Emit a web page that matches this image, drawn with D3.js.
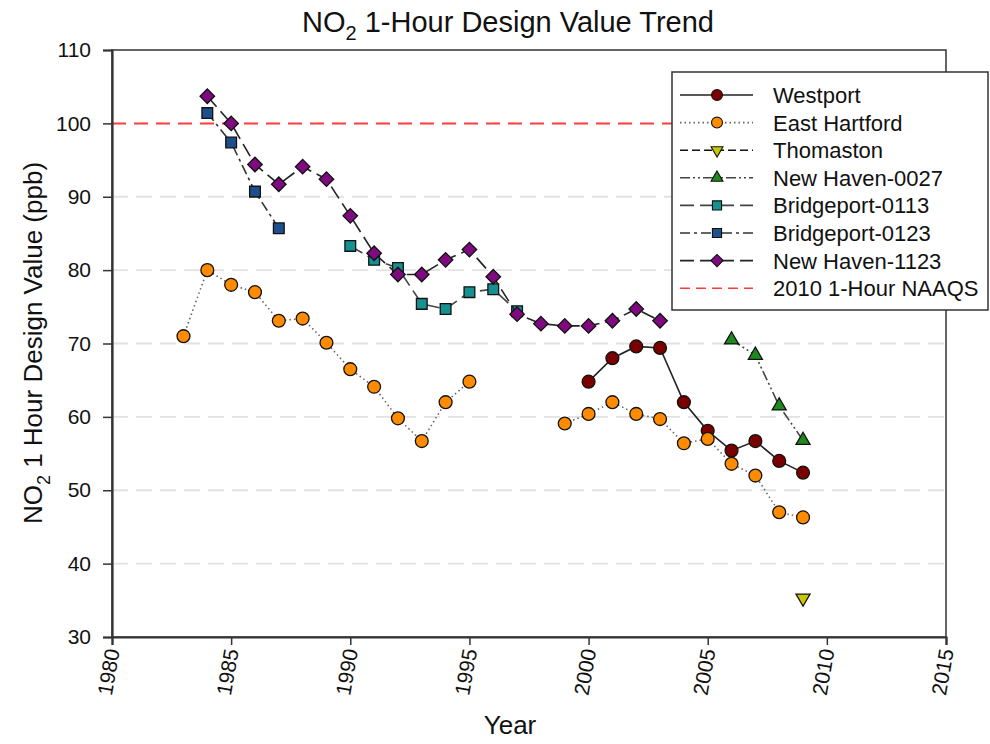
<!DOCTYPE html>
<html>
<head>
<meta charset="utf-8">
<script src="https://cdn.jsdelivr.net/npm/d3@7"></script>
<style>
  body { margin: 0; background: #fff; }
  text { font-family: Arial, 'Liberation Sans', sans-serif; fill: #111; }
</style>
</head>
<body>
<div id="chart"></div>
<script>
// data
const xTicks = [1980, 1985, 1990, 1995, 2000, 2005, 2010, 2015];
const yTicks = [30, 40, 50, 60, 70, 80, 90, 100, 110];
const gridValues = [40, 50, 60, 70, 80, 90];
const naaqsValue = 100;

const westportYears = [2000, 2001, 2002, 2003, 2004, 2005, 2006, 2007, 2008, 2009];
const westportValues = [64.8, 68.0, 69.6, 69.4, 62.0, 58.1, 55.4, 56.7, 54.0, 52.4];

const eastHartfordYears = [1983, 1984, 1985, 1986, 1987, 1988, 1989, 1990, 1991, 1992, 1993, 1994, 1995,
  1996, 1997, 1998, 1999, 2000, 2001, 2002, 2003, 2004, 2005, 2006, 2007, 2008, 2009];
const eastHartfordValues = [71.0, 80.0, 78.0, 77.0, 73.1, 73.4, 70.1, 66.5, 64.1, 59.8, 56.7, 62.0, 64.8,
  null, null, null, 59.1, 60.4, 62.0, 60.4, 59.7, 56.4, 57.0, 53.6, 52.0, 47.0, 46.3];

const thomastonYears = [2009];
const thomastonValues = [35.3];

const newHaven0027Years = [2006, 2007, 2008, 2009];
const newHaven0027Values = [70.5, 68.4, 61.5, 56.8];

const bridgeport0113Years = [1990, 1991, 1992, 1993, 1994, 1995, 1996, 1997];
const bridgeport0113Values = [83.3, 81.4, 80.3, 75.4, 74.7, 77.0, 77.4, 74.4];

const bridgeport0123Years = [1984, 1985, 1986, 1987];
const bridgeport0123Values = [101.4, 97.4, 90.7, 85.7];

const newHaven1123Years = [1984, 1985, 1986, 1987, 1988, 1989, 1990, 1991, 1992, 1993, 1994, 1995,
  1996, 1997, 1998, 1999, 2000, 2001, 2002, 2003];
const newHaven1123Values = [103.7, 100.0, 94.4, 91.7, 94.1, 92.4, 87.4, 82.3, 79.4, 79.4, 81.4, 82.8,
  79.1, 74.0, 72.7, 72.4, 72.4, 73.1, 74.7, 73.1];

const seriesNames = ['Westport', 'East Hartford', 'Thomaston', 'New Haven-0027',
  'Bridgeport-0113', 'Bridgeport-0123', 'New Haven-1123'];
const naaqsName = '2010 1-Hour NAAQS';

// styling for each series, same order as the names
const seriesYears = [westportYears, eastHartfordYears, thomastonYears, newHaven0027Years,
  bridgeport0113Years, bridgeport0123Years, newHaven1123Years];
const seriesValues = [westportValues, eastHartfordValues, thomastonValues, newHaven0027Values,
  bridgeport0113Values, bridgeport0123Values, newHaven1123Values];
const fills = ['#7a0000', '#ff8c00', '#c8c800', '#1e8a1e', '#169090', '#1c4f8c', '#7f0a80'];
const lineColors = ['#222', '#666', '#111', '#444', '#444', '#333', '#222'];
const dashes = [null, '1.5,3', '8,4', '10,3,2,3,2,3', '14,6', '10,4,3,4', '14,6'];
const shapes = ['circle', 'circle', 'down', 'up', 'square', 'square', 'diamond'];

const width = 990;
const height = 744;

const svg = d3.select('#chart')
  .append('svg')
  .attr('width', width)
  .attr('height', height);

const x = d3.scaleLinear().domain([1980, 2015]).range([112, 946]);
const y = d3.scaleLinear().domain([30, 110]).range([637, 50]);

// dashed gray grid
svg.append('g')
  .selectAll('line')
  .data(gridValues)
  .enter()
  .append('line')
  .attr('x1', x(1980))
  .attr('x2', x(2015))
  .attr('y1', d => y(d))
  .attr('y2', d => y(d))
  .attr('stroke', '#e2e2e2')
  .attr('stroke-width', 1.8)
  .attr('stroke-dasharray', '16,8');

// standard line
svg.append('line')
  .attr('x1', x(1980))
  .attr('x2', x(2015))
  .attr('y1', y(naaqsValue))
  .attr('y2', y(naaqsValue))
  .attr('stroke', '#ff3b3b')
  .attr('stroke-width', 2)
  .attr('stroke-dasharray', '14,8');

function symbolPath(shape) {
  if (shape === 'circle') return d3.symbol(d3.symbolCircle, 130)();
  if (shape === 'square') return d3.symbol(d3.symbolSquare, 115)();
  if (shape === 'diamond') return d3.symbol(d3.symbolSquare, 105)();
  return d3.symbol(d3.symbolTriangle, 85)();
}
function symbolTransform(shape, cx, cy) {
  if (shape === 'diamond') return `translate(${cx},${cy}) rotate(45)`;
  if (shape === 'down') return `translate(${cx},${cy}) rotate(180)`;
  return `translate(${cx},${cy})`;
}

const line = d3.line()
  .defined(d => d.v != null)
  .x(d => x(d.year))
  .y(d => y(d.v));

seriesNames.forEach((name, i) => {
  const points = seriesYears[i].map((year, j) => ({ year: year, v: seriesValues[i][j] }));
  const group = svg.append('g').attr('class', 'series');

  group.append('path')
    .attr('d', line(points))
    .attr('fill', 'none')
    .attr('stroke', lineColors[i])
    .attr('stroke-width', 1.6)
    .attr('stroke-dasharray', dashes[i]);

  group.selectAll('path.mark')
    .data(points.filter(d => d.v != null))
    .enter()
    .append('path')
    .attr('class', 'mark')
    .attr('d', symbolPath(shapes[i]))
    .attr('transform', d => symbolTransform(shapes[i], x(d.year), y(d.v)))
    .attr('fill', fills[i])
    .attr('stroke', '#111')
    .attr('stroke-width', 1.3);
});

// frame
svg.append('rect')
  .attr('x', x(1980))
  .attr('y', y(110))
  .attr('width', x(2015) - x(1980))
  .attr('height', y(30) - y(110))
  .attr('fill', 'none')
  .attr('stroke', '#333')
  .attr('stroke-width', 1.5);

// axes
const axisY = d3.axisLeft(y).tickValues(yTicks).tickSize(9).tickPadding(12);
const gy = svg.append('g')
  .attr('transform', `translate(${x(1980)}, 0)`)
  .call(axisY);
gy.select('.domain').attr('stroke', '#333').attr('stroke-width', 2.2);
gy.selectAll('.tick line').attr('stroke', '#333').attr('stroke-width', 1.5);
gy.selectAll('text')
  .attr('font-size', 21)
  .attr('font-family', 'Arial, sans-serif')
  .attr('fill', '#111');

const axisX = d3.axisBottom(x).tickValues(xTicks).tickSize(8).tickFormat(d3.format('d'));
const gx = svg.append('g')
  .attr('transform', `translate(0, ${y(30)})`)
  .call(axisX);
gx.select('.domain').attr('stroke', '#333').attr('stroke-width', 2.2);
gx.selectAll('.tick line').attr('stroke', '#333').attr('stroke-width', 1.5);
gx.selectAll('text')
  .attr('font-size', 21)
  .attr('font-family', 'Arial, sans-serif')
  .attr('fill', '#111')
  .attr('text-anchor', 'end')
  .attr('dy', '0.35em')
  .attr('y', 0)
  .attr('transform', 'translate(0, 12) rotate(-80)');

// titles
const title = svg.append('text')
  .attr('x', 508)
  .attr('y', 32)
  .attr('text-anchor', 'middle')
  .attr('font-size', 29);
title.append('tspan').text('NO');
title.append('tspan').attr('font-size', 20).attr('dy', 8).text('2');
title.append('tspan').attr('dy', -8).text(' 1-Hour Design Value Trend');

svg.append('text')
  .attr('x', 510)
  .attr('y', 734)
  .attr('text-anchor', 'middle')
  .attr('font-size', 26)
  .text('Year');

const yTitle = svg.append('text')
  .attr('transform', 'translate(42, 343) rotate(-90)')
  .attr('text-anchor', 'middle')
  .attr('font-size', 26);
yTitle.append('tspan').text('NO');
yTitle.append('tspan').attr('font-size', 18).attr('dy', 8).text('2');
yTitle.append('tspan').attr('dy', -8).text(' 1 Hour Design Value (ppb)');

// legend
const legend = svg.append('g').attr('class', 'legend');
legend.append('rect')
  .attr('x', 672)
  .attr('y', 72)
  .attr('width', 316)
  .attr('height', 238)
  .attr('fill', '#fff')
  .attr('stroke', '#333')
  .attr('stroke-width', 1.5);

const rowY = i => 95 + i * 27.6;

seriesNames.forEach((name, i) => {
  const row = legend.append('g');
  row.append('line')
    .attr('x1', 680).attr('x2', 753)
    .attr('y1', rowY(i)).attr('y2', rowY(i))
    .attr('stroke', lineColors[i])
    .attr('stroke-width', 1.6)
    .attr('stroke-dasharray', dashes[i]);
  row.append('path')
    .attr('d', symbolPath(shapes[i]))
    .attr('transform', symbolTransform(shapes[i], 717, rowY(i)) + ' scale(0.85)')
    .attr('fill', fills[i])
    .attr('stroke', '#111')
    .attr('stroke-width', 1.3);
  row.append('text')
    .attr('x', 773)
    .attr('y', rowY(i))
    .attr('dy', '0.36em')
    .attr('font-size', 22)
    .text(name);
});

legend.append('line')
  .attr('x1', 680).attr('x2', 753)
  .attr('y1', rowY(7)).attr('y2', rowY(7))
  .attr('stroke', '#ff3b3b')
  .attr('stroke-width', 1.6)
  .attr('stroke-dasharray', '10,6');
legend.append('text')
  .attr('x', 773)
  .attr('y', rowY(7))
  .attr('dy', '0.36em')
  .attr('font-size', 22)
  .text(naaqsName);
</script>
</body>
</html>
